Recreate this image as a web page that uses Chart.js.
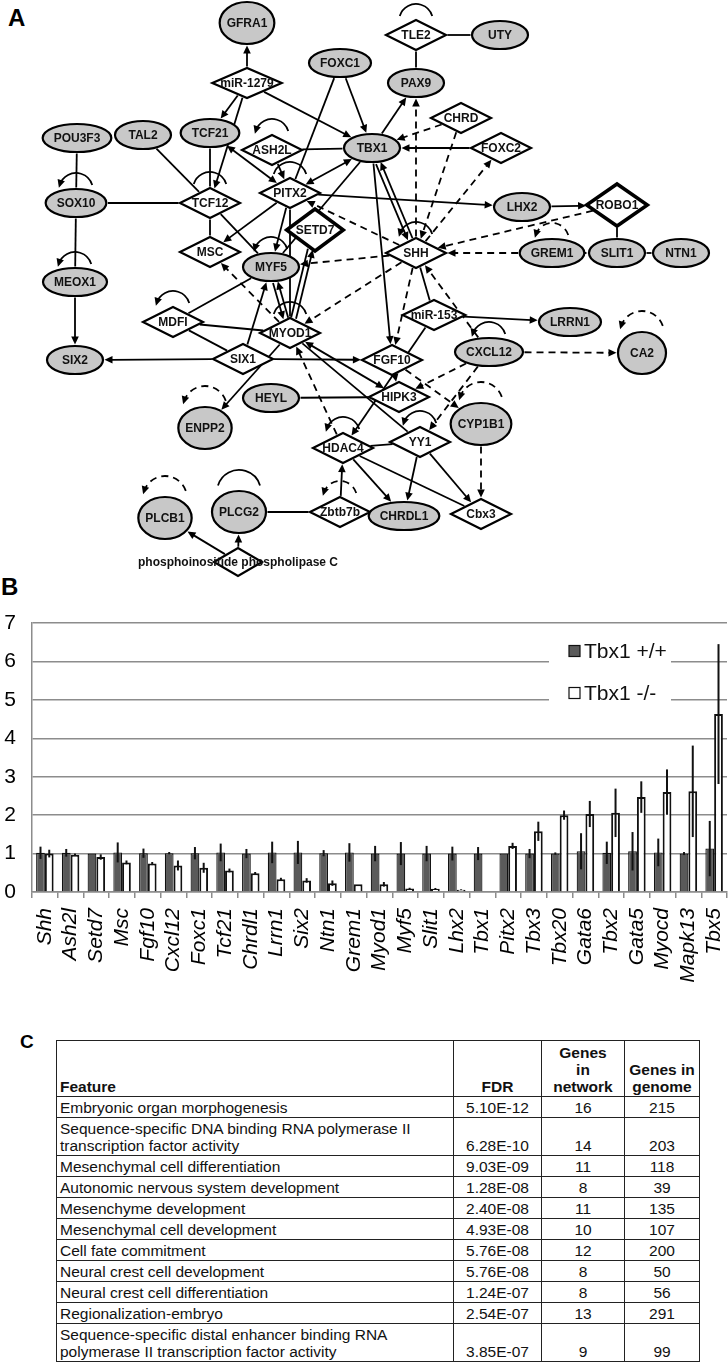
<!DOCTYPE html>
<html>
<head>
<meta charset="utf-8">
<script src="https://cdn.jsdelivr.net/npm/chart.js@4.4.1/dist/chart.umd.min.js"></script>
<style>
  body { margin: 0; background: #fff; width: 728px; height: 1365px; position: relative; overflow: hidden;
         font-family: "Liberation Sans", Arial, sans-serif; }
  .panel { position: absolute; font-weight: bold; color: #000; line-height: 1; }
  #net { position: absolute; left: 0; top: 0; }
  #bars { position: absolute; left: 0; top: 600px; }
  #feat { position: absolute; left: 56px; top: 1040px; border-collapse: collapse;
          font-family: "Liberation Sans", Arial, sans-serif; font-size: 15.5px; color: #111; }
  #feat td, #feat th { border: 1.5px solid #222; padding: 0 3px 1px 3px; vertical-align: bottom; line-height: 17px; }
  #feat th { font-weight: bold; }
</style>
</head>
<body>
<div class="panel" style="left:8px;top:6px;font-size:24px">A</div>
<div class="panel" style="left:1px;top:575px;font-size:24px">B</div>
<div class="panel" style="left:20px;top:1032px;font-size:19px">C</div>
<canvas id="net" width="728" height="590"></canvas>
<canvas id="bars" width="728" height="400"></canvas>
<table id="feat"></table>
<script>
"use strict";

// ---- panel A: network ----
const nodeNames = ['GFRA1', 'miR-1279', 'FOXC1', 'TLE2', 'UTY', 'PAX9', 'POU3F3', 'TAL2', 'TCF21', 'ASH2L',
  'TBX1', 'CHRD', 'FOXC2', 'PITX2', 'SOX10', 'TCF12', 'SETD7', 'LHX2', 'ROBO1', 'MSC',
  'MYF5', 'SHH', 'GREM1', 'SLIT1', 'NTN1', 'MEOX1', 'MDFI', 'miR-153', 'LRRN1', 'MYOD1',
  'SIX2', 'SIX1', 'FGF10', 'CXCL12', 'CA2', 'HEYL', 'HIPK3', 'ENPP2', 'CYP1B1', 'YY1',
  'HDAC4', 'Zbtb7b', 'PLCG2', 'PLCB1', 'CHRDL1', 'Cbx3', 'phosphoinositide phospholipase C'];
const nodeX = [247, 247, 340, 416, 500, 416, 77, 143, 210, 272,
  372, 461, 501, 290, 76, 210, 315, 522, 617, 210,
  271, 416, 552, 617, 681, 75, 173, 434, 570, 290,
  75, 243, 392, 489, 642, 271, 399, 205, 481, 420,
  343, 340, 239, 165, 404, 481, 238];
const nodeY = [23, 83, 63, 35, 35, 83, 138, 135, 133, 150,
  148, 118, 148, 193, 203, 203, 230, 207, 205, 252,
  267, 253, 253, 253, 253, 282, 322, 315, 322, 333,
  360, 359, 360, 352, 353, 398, 397, 428, 424, 442,
  448, 512, 512, 518, 516, 514, 562];
// e = ellipse (gray), d = diamond (white)
const nodeShape = ['e', 'd', 'e', 'd', 'e', 'e', 'e', 'e', 'e', 'd',
  'e', 'd', 'd', 'd', 'e', 'd', 'd', 'e', 'd', 'd',
  'e', 'd', 'e', 'e', 'e', 'e', 'd', 'd', 'e', 'd',
  'e', 'd', 'd', 'e', 'e', 'e', 'd', 'e', 'e', 'd',
  'd', 'd', 'e', 'e', 'e', 'd', 'd'];

// a = arrow, l = plain line, b = arrows both ends, d = dashed arrow
const edges = [
  ['miR-1279', 'GFRA1', 'a'], ['miR-1279', 'TCF21', 'a'], ['miR-1279', 'TCF12', 'a'], ['miR-1279', 'TBX1', 'a'],
  ['FOXC1', 'TBX1', 'a'], ['FOXC1', 'PITX2', 'l'], ['POU3F3', 'SOX10', 'l'], ['SOX10', 'TCF12', 'l'],
  ['SOX10', 'MEOX1', 'l'], ['MEOX1', 'SIX2', 'a'], ['TAL2', 'TCF12', 'l'], ['TCF21', 'TCF12', 'l'],
  ['TCF12', 'MSC', 'l'], ['TCF12', 'MYF5', 'l'], ['ASH2L', 'TBX1', 'l'], ['TCF21', 'PITX2', 'b'],
  ['ASH2L', 'PITX2', 'a'], ['PITX2', 'TBX1', 'b'], ['PITX2', 'LHX2', 'a'], ['PITX2', 'MSC', 'a'],
  ['PITX2', 'MYF5', 'a'], ['PITX2', 'MYOD1', 'l'], ['TBX1', 'MYF5', 'l'], ['SETD7', 'MYOD1', 'l'],
  ['SHH', 'PITX2', 'd'], ['SHH', 'MYF5', 'd'], ['SHH', 'MYOD1', 'd'], ['TBX1', 'PAX9', 'a'],
  ['PAX9', 'TLE2', 'l'], ['TLE2', 'UTY', 'l'], ['SHH', 'PAX9', 'd'], ['CHRD', 'TBX1', 'd'],
  ['CHRD', 'SHH', 'd'], ['FOXC2', 'TBX1', 'a'], ['SHH', 'FOXC2', 'd'], ['TBX1', 'SHH', 'a'],
  ['SHH', 'TBX1', 'a'], ['TBX1', 'FGF10', 'a'], ['SHH', 'FGF10', 'd'], ['CXCL12', 'SHH', 'd'],
  ['miR-153', 'SHH', 'l'], ['miR-153', 'LRRN1', 'a'], ['miR-153', 'HDAC4', 'a'], ['LHX2', 'ROBO1', 'a'],
  ['ROBO1', 'SHH', 'd'], ['ROBO1', 'SLIT1', 'l'], ['GREM1', 'SHH', 'd'], ['GREM1', 'SLIT1', 'a'],
  ['SLIT1', 'NTN1', 'l'], ['CXCL12', 'CA2', 'd'], ['CXCL12', 'HIPK3', 'd'], ['CXCL12', 'YY1', 'd'],
  ['CYP1B1', 'Cbx3', 'd'], ['YY1', 'CHRDL1', 'a'], ['YY1', 'Cbx3', 'a'], ['HDAC4', 'YY1', 'l'],
  ['HDAC4', 'CHRDL1', 'a'], ['HDAC4', 'Cbx3', 'l'], ['HDAC4', 'MYOD1', 'd'], ['Zbtb7b', 'HDAC4', 'a'],
  ['PLCG2', 'Zbtb7b', 'l'], ['phosphoinositide phospholipase C', 'PLCG2', 'a'],
  ['phosphoinositide phospholipase C', 'PLCB1', 'a'], ['MYOD1', 'HIPK3', 'b'], ['MYOD1', 'YY1', 'l'],
  ['SIX1', 'FGF10', 'a'], ['SIX1', 'SIX2', 'a'], ['SIX1', 'MYF5', 'a'], ['MYOD1', 'ENPP2', 'a'],
  ['MDFI', 'MYOD1', 'l'], ['MDFI', 'MYF5', 'l'], ['MYOD1', 'MSC', 'd'], ['MDFI', 'SIX1', 'l'],
  ['HEYL', 'HIPK3', 'l'], ['MYF5', 'MYOD1', 'a'], ['MYOD1', 'MYF5', 'a'], ['MYOD1', 'SETD7', 'a'],
  ['FGF10', 'HIPK3', 'a'], ['FGF10', 'CYP1B1', 'd']
];
// self loops: a = arrow, l = arc only, d = dashed arrow
const loops = [
  ['SOX10', 'a'], ['TCF12', 'l'], ['ASH2L', 'a'], ['PITX2', 'l'], ['MYF5', 'a'], ['MEOX1', 'a'],
  ['TLE2', 'l'], ['SHH', 'a'], ['GREM1', 'd'], ['CXCL12', 'a'], ['CA2', 'd'], ['CYP1B1', 'd'],
  ['YY1', 'a'], ['HDAC4', 'a'], ['Zbtb7b', 'd'], ['PLCG2', 'l'], ['PLCB1', 'd'], ['MDFI', 'a'],
  ['MYOD1', 'l'], ['ENPP2', 'd']
];
const roundNodes = ['GFRA1', 'CA2', 'ENPP2', 'CYP1B1', 'PLCG2', 'PLCB1'];
const thickNodes = ['SETD7', 'ROBO1'];

// ---- panel B: qPCR ----
const genes = ['Shh', 'Ash2l', 'Setd7', 'Msc', 'Fgf10', 'Cxcl12', 'Foxc1', 'Tcf21', 'Chrdl1', 'Lrrn1',
  'Six2', 'Ntn1', 'Grem1', 'Myod1', 'Myf5', 'Slit1', 'Lhx2', 'Tbx1', 'Pitx2', 'Tbx3',
  'Tbx20', 'Gata6', 'Tbx2', 'Gata5', 'Myocd', 'Mapk13', 'Tbx5'];
const wildType = [1.02, 1.02, 1.0, 1.03, 1.01, 1.01, 1.01, 1.03, 1.0, 1.03,
  1.03, 1.01, 1.03, 1.0, 1.0, 1.0, 1.0, 1.0, 1.0, 1.0,
  1.0, 1.06, 1.02, 1.06, 1.03, 1.0, 1.13];
const wildTypeErr = [0.16, 0.1, 0.0, 0.26, 0.12, 0.03, 0.16, 0.23, 0.12, 0.28,
  0.3, 0.08, 0.24, 0.2, 0.3, 0.2, 0.18, 0.17, 0.0, 0.12,
  0.03, 0.47, 0.29, 0.5, 0.36, 0.04, 0.72];
const knockOut = [1.0, 0.97, 0.91, 0.77, 0.74, 0.69, 0.63, 0.56, 0.49, 0.33,
  0.3, 0.23, 0.2, 0.2, 0.09, 0.085, 0.06, 0.02, 1.2, 1.58,
  2.0, 2.03, 2.06, 2.47, 2.6, 2.62, 4.63];
const knockOutErr = [0.1, 0.03, 0.07, 0.05, 0.04, 0.13, 0.13, 0.05, 0.03, 0.04,
  0.06, 0.07, 0.0, 0.06, 0.02, 0.02, 0.01, 0.0, 0.08, 0.25,
  0.12, 0.34, 0.63, 0.41, 0.59, 1.19, 1.82];
const yTicks = [0, 1, 2, 3, 4, 5, 6, 7];

// ---- panel C: enrichment table ----
const features = ['Embryonic organ morphogenesis',
  'Sequence-specific DNA binding RNA polymerase II\ntranscription factor activity',
  'Mesenchymal cell differentiation', 'Autonomic nervous system development', 'Mesenchyme development',
  'Mesenchymal cell development', 'Cell fate commitment', 'Neural crest cell development',
  'Neural crest cell differentiation', 'Regionalization-embryo',
  'Sequence-specific distal enhancer binding RNA\npolymerase II transcription factor activity'];
const fdr = ['5.10E-12', '6.28E-10', '9.03E-09', '1.28E-08', '2.40E-08', '4.93E-08', '5.76E-08',
  '5.76E-08', '1.24E-07', '2.54E-07', '3.85E-07'];
const genesInNetwork = [16, 14, 11, 8, 11, 10, 12, 8, 8, 13, 9];
const genesInGenome = [215, 203, 118, 39, 135, 107, 200, 50, 56, 291, 99];

const FONT = '"Liberation Sans", Arial, sans-serif';
const NODE_FONT = 'bold 12px ' + FONT;
const nodeIdx = {};
nodeNames.forEach((n, i) => { nodeIdx[n] = i; });

function nodeBox(i, ctx) {
  const name = nodeNames[i];
  ctx.font = NODE_FONT;
  const tw = ctx.measureText(name).width;
  if (nodeShape[i] === 'e') {
    if (roundNodes.includes(name)) return {shape: 'e', a: Math.max(24, tw / 2 + 7), b: 21, lw: 2.2};
    return {shape: 'e', a: Math.max(28, tw / 2 + 11), b: 14, lw: 2.2};
  }
  if (name.length > 12) return {shape: 'd', a: 24, b: 14, lw: 2.2};
  if (thickNodes.includes(name)) return {shape: 'd', a: Math.max(25, tw / 2 + 9), b: 21, lw: 3.5};
  return {shape: 'd', a: Math.max(30, tw / 2 + 8), b: 15, lw: 2.2};
}

function boundary(box, ux, uy) {
  if (box.shape === 'e') return 1 / Math.sqrt((ux / box.a) ** 2 + (uy / box.b) ** 2);
  return 1 / (Math.abs(ux) / box.a + Math.abs(uy) / box.b);
}

function arrowHead(ctx, x, y, ux, uy) {
  const L = 8, W = 3.8;
  ctx.setLineDash([]);
  ctx.beginPath();
  ctx.moveTo(x, y);
  ctx.lineTo(x - ux * L - uy * W, y - uy * L + ux * W);
  ctx.lineTo(x - ux * L + uy * W, y - uy * L - ux * W);
  ctx.closePath();
  ctx.fill();
}

const networkDraw = {
  id: 'networkDraw',
  beforeDatasetsDraw(chart) {
    const ctx = chart.ctx;
    const pts = chart.getDatasetMeta(0).data;
    ctx.save();
    ctx.strokeStyle = '#000';
    ctx.fillStyle = '#000';
    ctx.lineWidth = 1.8;
    edges.forEach(([from, to, kind]) => {
      const i = nodeIdx[from], j = nodeIdx[to];
      const A = pts[i], B = pts[j];
      const len = Math.hypot(B.x - A.x, B.y - A.y);
      const ux = (B.x - A.x) / len, uy = (B.y - A.y) / len;
      const twin = edges.some(e => e[0] === to && e[1] === from);
      const ox = twin ? -uy * 2.5 : 0, oy = twin ? ux * 2.5 : 0;
      const r1 = boundary(nodeBox(i, ctx), ux, uy) + 1.5;
      const r2 = boundary(nodeBox(j, ctx), ux, uy) + 1.5;
      const x1 = A.x + ux * r1 + ox, y1 = A.y + uy * r1 + oy;
      const x2 = B.x - ux * r2 + ox, y2 = B.y - uy * r2 + oy;
      const headEnd = kind !== 'l';
      const headStart = kind === 'b';
      ctx.setLineDash(kind === 'd' ? [7, 5] : []);
      ctx.beginPath();
      ctx.moveTo(headStart ? x1 + ux * 6 : x1, headStart ? y1 + uy * 6 : y1);
      ctx.lineTo(headEnd ? x2 - ux * 6 : x2, headEnd ? y2 - uy * 6 : y2);
      ctx.stroke();
      if (headEnd) arrowHead(ctx, x2, y2, ux, uy);
      if (headStart) arrowHead(ctx, x1, y1, -ux, -uy);
    });
    loops.forEach(([name, kind]) => {
      const i = nodeIdx[name];
      const p = pts[i];
      const box = nodeBox(i, ctx);
      const r = roundNodes.includes(name) ? 22 : 17;
      const cx = p.x, cy = p.y - box.b + 1;
      const a0 = Math.PI + 0.3, a1 = 2 * Math.PI - 0.3;
      ctx.setLineDash(kind === 'd' ? [7, 5] : []);
      ctx.beginPath();
      ctx.arc(cx, cy, r, a0, a1);
      ctx.stroke();
      if (kind !== 'l') {
        const tx = Math.sin(a0), ty = -Math.cos(a0);
        arrowHead(ctx, cx + r * Math.cos(a0) + tx * 3, cy + r * Math.sin(a0) + ty * 3, tx, ty);
      }
    });
    ctx.restore();
  },
  afterDatasetsDraw(chart) {
    const ctx = chart.ctx;
    const pts = chart.getDatasetMeta(0).data;
    ctx.save();
    ctx.setLineDash([]);
    pts.forEach((p, i) => {
      const box = nodeBox(i, ctx);
      ctx.beginPath();
      if (box.shape === 'e') {
        ctx.ellipse(p.x, p.y, box.a, box.b, 0, 0, 2 * Math.PI);
        ctx.fillStyle = '#c8c8c8';
      } else {
        ctx.moveTo(p.x - box.a, p.y);
        ctx.lineTo(p.x, p.y - box.b);
        ctx.lineTo(p.x + box.a, p.y);
        ctx.lineTo(p.x, p.y + box.b);
        ctx.closePath();
        ctx.fillStyle = '#fff';
      }
      ctx.fill();
      ctx.lineWidth = box.lw;
      ctx.strokeStyle = '#000';
      ctx.stroke();
      ctx.font = NODE_FONT;
      ctx.fillStyle = '#111';
      ctx.textAlign = 'center';
      ctx.textBaseline = 'middle';
      ctx.fillText(nodeNames[i], p.x, p.y + 0.5);
    });
    ctx.restore();
  }
};

new Chart(document.getElementById('net'), {
  type: 'scatter',
  data: {
    datasets: [{
      data: nodeNames.map((n, i) => ({x: nodeX[i], y: nodeY[i]})),
      pointRadius: 0,
      pointHoverRadius: 0
    }]
  },
  options: {
    responsive: false,
    animation: false,
    events: [],
    layout: {padding: 0},
    scales: {
      x: {display: false, min: 0, max: 728},
      y: {display: false, min: 0, max: 590, reverse: true}
    },
    plugins: {legend: {display: false}, tooltip: {enabled: false}}
  },
  plugins: [networkDraw]
});

// legend box drawn inside the plot, over the grid lines
const boxLegend = {
  id: 'boxLegend',
  afterDatasetsDraw(chart) {
    const ctx = chart.ctx;
    const {right, top} = chart.chartArea;
    ctx.save();
    ctx.fillStyle = '#fff';
    ctx.fillRect(right - 178, top + 10, 122, 80);
    chart.data.datasets.forEach((ds, i) => {
      const cy = top + 28 + i * 42;
      ctx.fillStyle = ds.backgroundColor;
      ctx.fillRect(right - 158, cy - 5.5, 11, 11);
      ctx.lineWidth = 1.2;
      ctx.strokeStyle = '#111';
      ctx.strokeRect(right - 158, cy - 5.5, 11, 11);
      ctx.fillStyle = '#111';
      ctx.font = '21px ' + FONT;
      ctx.textAlign = 'left';
      ctx.textBaseline = 'middle';
      ctx.fillText(ds.label, right - 143, cy + 1);
    });
    ctx.restore();
  }
};

const errorBars = {
  id: 'errorBars',
  afterDatasetsDraw(chart) {
    const ctx = chart.ctx;
    const y = chart.scales.y;
    ctx.save();
    ctx.strokeStyle = '#111';
    ctx.lineWidth = 2;
    chart.data.datasets.forEach((ds, di) => {
      chart.getDatasetMeta(di).data.forEach((bar, k) => {
        const e = ds.errors[k];
        if (!e) return;
        const v = ds.data[k];
        ctx.beginPath();
        ctx.moveTo(bar.x, y.getPixelForValue(v + e));
        ctx.lineTo(bar.x, y.getPixelForValue(Math.max(0, v - e)));
        ctx.stroke();
      });
    });
    ctx.restore();
  }
};

new Chart(document.getElementById('bars'), {
  type: 'bar',
  data: {
    labels: genes,
    datasets: [
      {label: 'Tbx1 +/+', data: wildType, errors: wildTypeErr, backgroundColor: '#5a5a5a', borderColor: '#111', borderWidth: 1.2},
      {label: 'Tbx1 -/-', data: knockOut, errors: knockOutErr, backgroundColor: '#ffffff', borderColor: '#111', borderWidth: 2}
    ]
  },
  options: {
    responsive: false,
    animation: false,
    events: [],
    layout: {padding: {top: 23, right: 1, left: 0, bottom: 0}},
    datasets: {bar: {categoryPercentage: 0.68, barPercentage: 1.0}},
    scales: {
      x: {
        grid: {drawOnChartArea: false, drawTicks: true, tickLength: 6, color: '#8c8c8c', lineWidth: 1.5},
        border: {color: '#8c8c8c', width: 1.5},
        ticks: {minRotation: 90, maxRotation: 90, autoSkip: false, padding: 10, color: '#000',
                font: {family: FONT, size: 21, style: 'italic'}},
        afterFit: s => { s.height = 108; s.paddingLeft = 0; s.paddingRight = 0; }
      },
      y: {
        min: yTicks[0],
        max: yTicks[yTicks.length - 1],
        afterBuildTicks: s => { s.ticks = yTicks.map(v => ({value: v})); },
        grid: {color: '#8c8c8c', lineWidth: 1.5, drawTicks: false},
        border: {color: '#8c8c8c', width: 1.5},
        ticks: {padding: 16, color: '#000', font: {family: FONT, size: 21}},
        afterFit: s => { s.width = 32; s.paddingTop = 0; s.paddingBottom = 0; }
      }
    },
    plugins: {legend: {display: false}, tooltip: {enabled: false}}
  },
  plugins: [boxLegend, errorBars]
});

// table
const table = document.getElementById('feat');
const colWidths = [390, 81, 76, 68];
let html = '<tr style="height:56px">' +
  '<th style="text-align:left;width:' + colWidths[0] + 'px">Feature</th>' +
  '<th style="width:' + colWidths[1] + 'px">FDR</th>' +
  '<th style="width:' + colWidths[2] + 'px">Genes<br>in<br>network</th>' +
  '<th style="width:' + colWidths[3] + 'px">Genes in<br>genome</th></tr>';
features.forEach((f, i) => {
  const two = f.indexOf('\n') >= 0;
  html += '<tr style="height:' + (two ? 38 : 21) + 'px">' +
    '<td>' + f.replace('\n', '<br>') + '</td>' +
    '<td style="text-align:center">' + fdr[i] + '</td>' +
    '<td style="text-align:center">' + genesInNetwork[i] + '</td>' +
    '<td style="text-align:center">' + genesInGenome[i] + '</td></tr>';
});
table.innerHTML = html;
</script>
</body>
</html>
